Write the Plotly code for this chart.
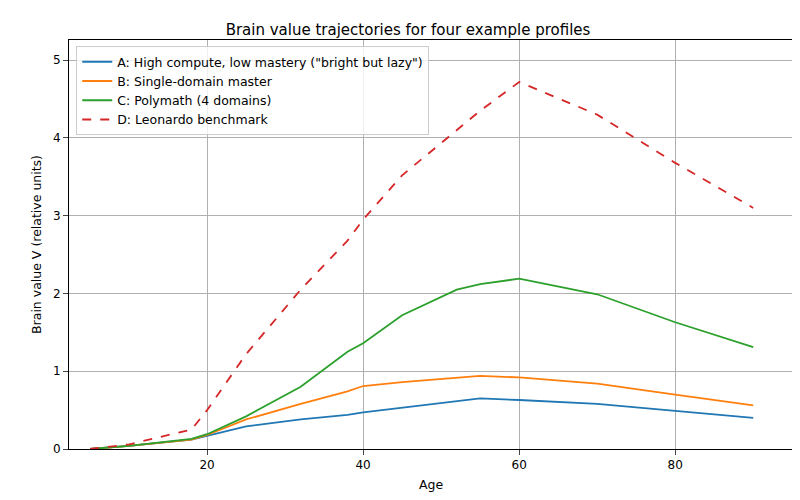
import plotly.graph_objects as go

ages = [5, 10, 18, 20, 25, 32, 38, 40, 45, 52, 55, 60, 70, 80, 90]
a_vals = [0.0, 0.04, 0.12, 0.17, 0.29, 0.38, 0.44, 0.47, 0.53, 0.61, 0.65, 0.63, 0.58, 0.49, 0.40]
b_vals = [0.0, 0.04, 0.12, 0.18, 0.38, 0.58, 0.74, 0.81, 0.86, 0.91, 0.94, 0.92, 0.84, 0.70, 0.56]
c_vals = [0.0, 0.04, 0.13, 0.19, 0.42, 0.80, 1.25, 1.36, 1.72, 2.05, 2.12, 2.19, 1.99, 1.63, 1.31]
d_vals = [0.0, 0.06, 0.25, 0.50, 1.22, 2.05, 2.68, 2.95, 3.52, 4.1, 4.35, 4.72, 4.3, 3.68, 3.1]

names = ['A: High compute, low mastery ("bright but lazy")', "B: Single-domain master",
         "C: Polymath (4 domains)", "D: Leonardo benchmark"]
colors = ["#1f77b4", "#ff7f0e", "#2ca02c", "#d62728"]
series = [a_vals, b_vals, c_vals, d_vals]

fig = go.Figure()
for i, vals in enumerate(series):
    fig.add_trace(go.Scatter(
        x=ages, y=vals, mode="lines", name=names[i],
        line=dict(color=colors[i], width=1.8, dash="dash" if i == 3 else "solid")))

fig.update_layout(
    width=800, height=500, plot_bgcolor="white", paper_bgcolor="white",
    font=dict(family="DejaVu Sans", size=12, color="black"),
    title=dict(text="Brain value trajectories for four example profiles", x=0.5, xanchor="center",
               y=0.956, yanchor="middle", font=dict(size=15)),
    margin=dict(l=61, r=15, t=32, b=59, autoexpand=False),
    legend=dict(x=0.01, y=0.985, xanchor="left", yanchor="top", bgcolor="rgba(255,255,255,0.8)",
                bordercolor="#cccccc", borderwidth=1, font=dict(size=12.5)),
)
fig.update_xaxes(title=dict(text="Age", standoff=8, font=dict(size=12.5)), automargin=False,
                 range=[2.3, 95.1], tickvals=[20, 40, 60, 80],
                 showgrid=True, gridcolor="#b0b0b0", showline=True, linecolor="black", mirror=True,
                 ticks="outside", zeroline=False)
fig.update_yaxes(title=dict(text="Brain value V (relative units)", standoff=8, font=dict(size=12.5)),
                 automargin=False, range=[0, 5.26], tickvals=[0, 1, 2, 3, 4, 5],
                 showgrid=True, gridcolor="#b0b0b0", showline=True, linecolor="black", mirror=True,
                 ticks="outside", zeroline=False)
fig.write_html("out.html")
